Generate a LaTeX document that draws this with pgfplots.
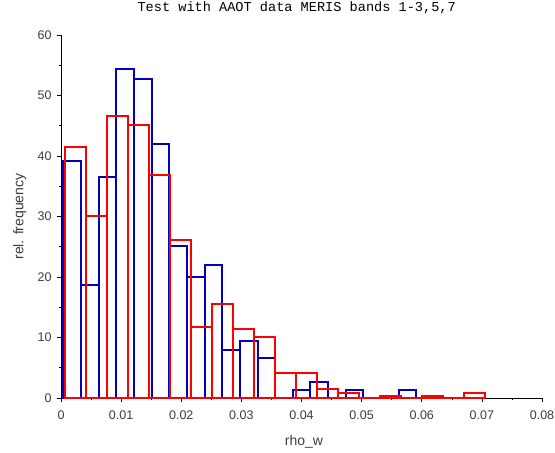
\documentclass[border=0pt]{standalone}
\usepackage{fontspec}
\setmainfont{Liberation Sans}
\newfontfamily\courfont{Liberation Mono}
\usepackage{pgfplots}
\pgfplotsset{compat=1.18}
\definecolor{histblue}{RGB}{0,0,190}
\definecolor{histred}{RGB}{255,0,0}
\definecolor{ticktext}{RGB}{60,60,60}
\begin{document}
\begin{tikzpicture}
\useasboundingbox (0,0) rectangle (555pt,453pt);
\begin{axis}[
    at={(61pt,55pt)}, anchor=south west,
    scale only axis,
    width=481pt, height=363pt,
    xmin=0, xmax=0.08, ymin=0, ymax=60,
    axis x line*=bottom, axis y line*=left,
    axis line style={-, black, line width=0.8pt},
    tick align=outside,
    major tick length=4pt, minor tick length=2pt,
    tick style={black, line width=0.6pt},
    xtick={0,0.01,0.02,0.03,0.04,0.05,0.06,0.07,0.08},
    xticklabels={0,0.01,0.02,0.03,0.04,0.05,0.06,0.07,0.08},
    ytick={0,10,20,30,40,50,60},
    minor x tick num=1, minor y tick num=1,
    scaled x ticks=false,
    /pgf/number format/assume math mode=true,
    ticklabel style={font=\fontsize{12.5}{14}\selectfont, text=ticktext},
    yticklabel style={xshift=-2pt},
    xticklabel style={yshift=-5pt},
    xlabel={rho\_w}, ylabel={rel. frequency},
    label style={font=\fontsize{14}{16}\selectfont, text=ticktext},
    xlabel style={at={(axis description cs:0.505,-0.121)}, anchor=center},
    ylabel style={at={(axis description cs:-0.086,0.5)}, anchor=center},
    title={\courfont Test with AAOT data MERIS bands 1-3,5,7},
    title style={font=\fontsize{13.6}{15}\selectfont, at={(axis description cs:0.49,1.058)}, anchor=center},
    clip=false,
]
% blue histogram (20 bins, left edge + height; last point closes the last bin)
\addplot[ybar interval, draw=histblue, fill=none, line width=2pt] coordinates {
(0.00040,39.1) (0.003335,18.6) (0.00627,36.5) (0.009205,54.4) (0.01214,52.8)
(0.015075,42.0) (0.01801,25.2) (0.020945,20.0) (0.02388,22.0) (0.026815,8.0)
(0.02975,9.4) (0.032685,6.6) (0.03562,0) (0.038555,1.4) (0.04149,2.6)
(0.044425,0) (0.04736,1.4) (0.050295,0) (0.05323,0.25) (0.056165,1.4)
(0.0591,1.4)};
% red histogram (20 bins)
\addplot[ybar interval, draw=histred, fill=none, line width=2pt] coordinates {
(0.0007,41.5) (0.004195,30.1) (0.00769,46.6) (0.011185,45.2) (0.01468,36.8)
(0.018175,26.1) (0.02167,11.8) (0.025165,15.6) (0.02866,11.4) (0.032155,10.0)
(0.03565,4.1) (0.039145,4.2) (0.04264,1.55) (0.046135,0.85) (0.04963,0)
(0.053125,0.25) (0.05662,0) (0.060115,0.4) (0.06361,0) (0.067105,0.75)
(0.0706,0.75)};
\end{axis}
\end{tikzpicture}
\end{document}
